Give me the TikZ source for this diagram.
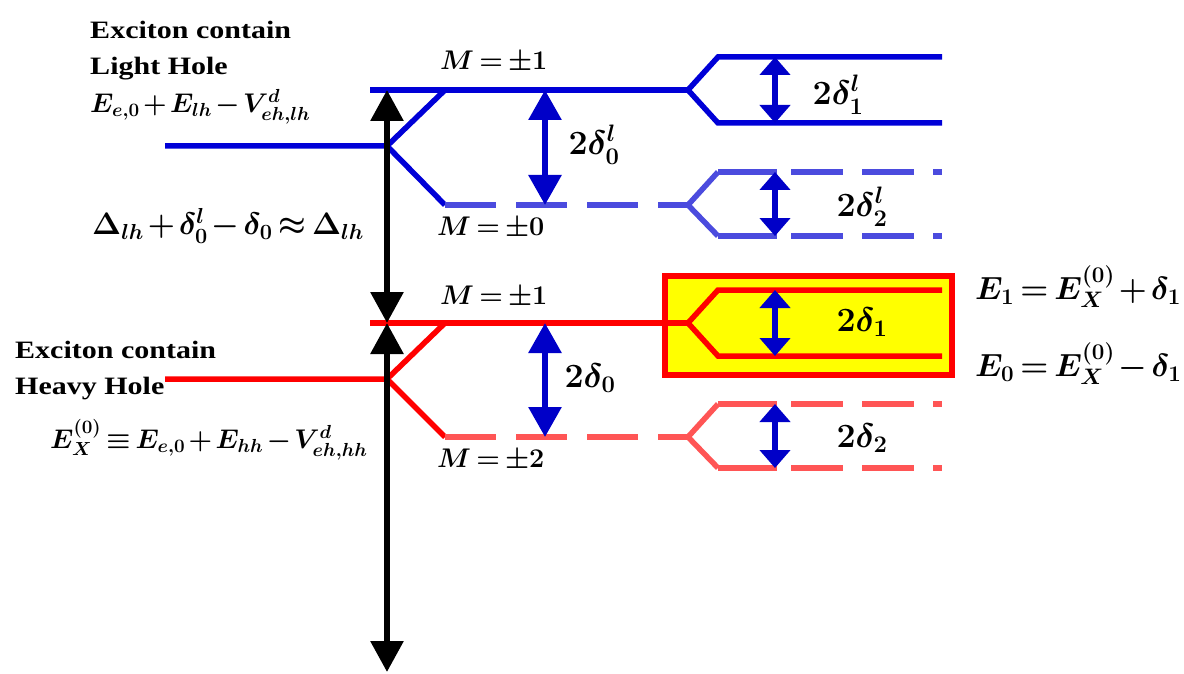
\documentclass[tikz,border=0pt]{standalone}
\usepackage{fix-cm}
\usepackage{fontspec}
\setmainfont{Liberation Serif}
\usepackage{amsmath}
\usepackage{tikz}
\usetikzlibrary{arrows.meta, positioning}
\definecolor{lhblue}{RGB}{0,0,215}
\definecolor{lhlight}{RGB}{75,75,222}
\definecolor{hhred}{RGB}{255,0,0}
\definecolor{hhlight}{RGB}{255,85,85}
\definecolor{gapblue}{RGB}{0,0,200}
\definecolor{boxyellow}{RGB}{255,255,0}

\begin{document}
\begin{tikzpicture}[x=1pt, y=-1pt,
  level/.style={line width=5.5pt},
  darklevel/.style={line width=5.5pt, dash pattern=on 51pt off 20pt},
  tail/.style={line width=5.5pt, dash pattern=on 59pt off 14pt on 52pt off 19pt on 52pt off 19pt on 9pt off 9pt},
  gapwide/.style={gapblue, line width=6pt, {Triangle[width=32pt,length=30pt]}-{Triangle[width=32pt,length=30pt]}},
  gapnarrow/.style={gapblue, line width=6pt, {Triangle[width=30pt,length=18pt]}-{Triangle[width=30pt,length=18pt]}},
  offset/.style={black, line width=6pt, {Triangle[width=32pt,length=31pt]}-{Triangle[width=32pt,length=31pt]}},
  lbl/.style={anchor=west, inner sep=0pt, xscale=1.2, font=\bfseries\fontsize{25}{25}\selectfont},
  mlbl/.style={anchor=west, inner sep=0pt, font={\boldmath\fontsize{27}{27}\selectfont\medmuskip=2mu\thickmuskip=3mu}},
  glbl/.style={inner sep=0pt, font=\boldmath\fontsize{34}{34}\selectfont},
  elbl/.style={anchor=west, inner sep=0pt, font={\boldmath\fontsize{32}{32}\selectfont\medmuskip=2mu\thickmuskip=3mu}}]

  \useasboundingbox (0,0) rectangle (1184,674);

  % Box round the bright pair
  \draw[hhred, line width=6pt, fill=boxyellow] (665,276) rectangle (952,375);

  % Levels: light hole (blue), heavy hole (red)
  \foreach \n/\c/\cl/\yt/\ym/\yb in {lh/lhblue/lhlight/90/146/205, hh/hhred/hhlight/323/379/437}{
    \coordinate (\n-in) at (165,\ym);
    \coordinate (\n-s)  at (387,\ym);
    \coordinate (\n-t0) at (370,\yt);
    \coordinate (\n-tu) at (445,\yt);
    \coordinate (\n-ts) at (688,\yt);
    \coordinate (\n-bu) at (445,\yb);
    \coordinate (\n-bs) at (688,\yb);
    \draw[level, \c] (\n-in) -- (\n-s) -- (\n-tu);
    \draw[level, \c] (\n-t0) -- (\n-ts);
    \draw[level, \c] (\n-s) -- (\n-bu);
    \draw[darklevel, \cl] (\n-bu) -- (\n-bs);
    % splitting on the right
    \coordinate (\n-tA) at (718,\yt-33);
    \coordinate (\n-tB) at (718,\yt+33);
    \coordinate (\n-tAe) at (942,\yt-33);
    \coordinate (\n-tBe) at (942,\yt+33);
    \draw[level, \c] (\n-tAe) -- (\n-tA) -- (\n-ts) -- (\n-tB) -- (\n-tBe);
    \coordinate (\n-bA) at (718,\yb-33);
    \coordinate (\n-bB) at (718,\yb+31);
    \coordinate (\n-bAe) at (942,\yb-33);
    \coordinate (\n-bBe) at (942,\yb+31);
    \draw[level, \cl] (\n-bA) -- (\n-bs) -- (\n-bB);
    \draw[tail, \cl] (\n-bA) -- (\n-bAe);
    \draw[tail, \cl] (\n-bB) -- (\n-bBe);
    % splittings
    \coordinate (\n-g0t) at (545,\yt);
    \coordinate (\n-g0b) at (545,\yb);
    \coordinate (\n-g1t) at (775,\yt-33);
    \coordinate (\n-g1b) at (775,\yt+33);
    \coordinate (\n-g2t) at (775,\yb-33);
    \coordinate (\n-g2b) at (775,\yb+31);
    \draw[gapwide] (\n-g0t) -- (\n-g0b);
    \draw[gapnarrow] (\n-g1t) -- (\n-g1b);
    \draw[gapnarrow] (\n-g2t) -- (\n-g2b);
  }

  % Energy axis
  \coordinate (ax-t) at (387,90);
  \coordinate (ax-m) at (387,323);
  \coordinate (ax-b) at (387,672);
  \draw[offset] (ax-t) -- (ax-m);
  \draw[offset] (ax-m) -- (ax-b);

  % M labels
  \node[mlbl] (lh-m1) at (440,62) {$M=\pm1$};
  \node[mlbl] (lh-m0) at (437,228) {$M=\pm0$};
  \node[mlbl] (hh-m1) at (440,297) {$M=\pm1$};
  \node[mlbl] (hh-m2) at (437,460) {$M=\pm2$};

  % splitting labels
  \node[glbl] (lh-d0) at (594,145) {$2\delta^{l}_{0}$};
  \node[glbl] (lh-d1) at (838,95) {$2\delta^{l}_{1}$};
  \node[glbl] (lh-d2) at (862,207) {$2\delta^{l}_{2}$};
  \node[glbl] (hh-d0) at (590,378) {$2\delta_{0}$};
  \node[glbl] (hh-d1) at (862,322) {$2\delta_{1}$};
  \node[glbl] (hh-d2) at (862,438) {$2\delta_{2}$};

  % Light hole exciton
  \node[lbl] (lh-t1) at (90,30) {Exciton contain};
  \node[lbl] (lh-t2) at (90,69) {Light Hole};
  \node[mlbl] (lh-e) at (90,107) {$E_{e,0}+E_{lh}-V^{d}_{eh,lh}$};
  \node[mlbl, font={\boldmath\fontsize{31}{31}\selectfont\medmuskip=2mu\thickmuskip=3mu}] (lh-gap) at (92,226) {$\Delta_{lh}+\delta^{l}_{0}-\delta_{0}\approx\Delta_{lh}$};

  % Heavy hole exciton
  \node[lbl] (hh-t1) at (15,350) {Exciton contain};
  \node[lbl] (hh-t2) at (15,389) {Heavy Hole};
  \node[mlbl] (hh-e) at (50,440) {$E^{(0)}_{X}\equiv E_{e,0}+E_{hh}-V^{d}_{eh,hh}$};

  % bright states
  \node[elbl] (e1) at (975,287) {$E_{1}=E^{(0)}_{X}+\delta_{1}$};
  \node[elbl] (e0) at (975,364) {$E_{0}=E^{(0)}_{X}-\delta_{1}$};

\end{tikzpicture}
\end{document}
